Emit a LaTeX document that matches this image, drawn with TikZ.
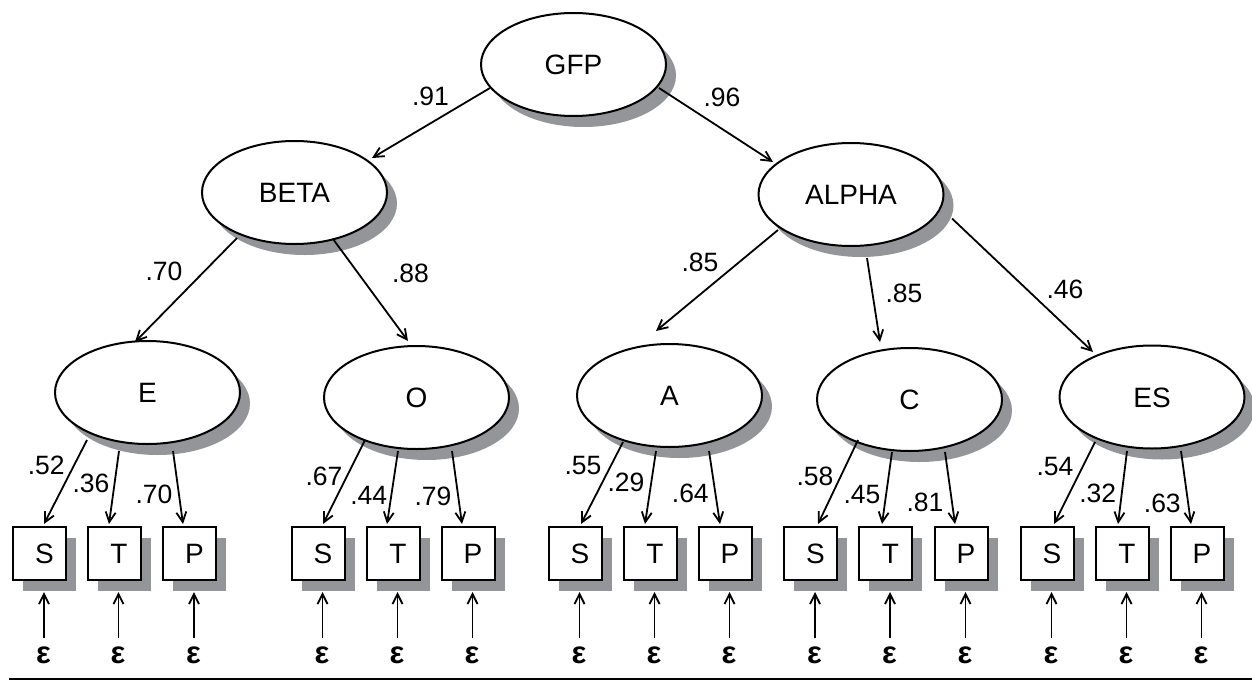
\documentclass[tikz,border=0pt]{standalone}
\usepackage{fontspec}
\setmainfont{Liberation Sans}
\usetikzlibrary{arrows.meta,shapes.geometric,shadows,calc}
\definecolor{sgray}{RGB}{147,149,152}
\begin{document}
\begin{tikzpicture}[x=1pt,y=-1pt,
  lat/.style={ellipse, draw, line width=2pt, fill=white,
    minimum width=185pt, minimum height=103pt, inner sep=0pt,
    text height=20pt, text depth=0pt, font=\fontsize{28}{31}\selectfont,
    drop shadow={opacity=1, fill=sgray, shadow xshift=10pt, shadow yshift=-11pt}},
  obs/.style={rectangle, draw, line width=2pt, fill=white,
    minimum size=53pt, inner sep=0pt,
    text height=20pt, text depth=0pt, font=\fontsize{28}{31}\selectfont,
    drop shadow={opacity=1, fill=sgray, shadow xshift=10pt, shadow yshift=-11pt}},
  coef/.style={inner sep=0pt, text height=18.5pt, text depth=0pt, font=\fontsize{26.5}{29}\selectfont},
  err/.style={inner sep=0pt, font=\bfseries\fontsize{31}{33}\selectfont},
  arr/.style={-{Straight Barb[length=10pt,width=10pt]}, line width=1.8pt},
]
\useasboundingbox (0,0) rectangle (1252,680);

% latent factors
\node[lat] (GFP)   at (573.5,64.5)  {GFP};
\node[lat] (BETA)  at (294.5,192.5) {BETA};
\node[lat] (ALPHA) at (851,194.5)   {ALPHA};
\node[lat] (E)     at (147.5,392.5) {E};
\node[lat] (O)     at (416.5,397.5) {O};
\node[lat] (A)     at (669.5,395.5) {A};
\node[lat] (C)     at (909.5,399.5) {C};
\node[lat] (ES)    at (1152,397)    {ES};

% observed indicators and errors
\foreach \g/\a/\b/\c in {E/39.5/114/189.5, O/318/393/468, A/575/650/725, C/810.5/885.5/961, ES/1047/1122/1197}{
  \node[obs] (\g-s) at (\a,553.5) {\hspace*{10pt}S};
  \node[obs] (\g-t) at (\b,553.5) {\hspace*{10pt}T};
  \node[obs] (\g-p) at (\c,553.5) {\hspace*{10pt}P};
}
\foreach \g in {E,O,A,C,ES}{
  \foreach \k in {s,t,p}{
    \node[err] (eps-\g-\k) at ($(\g-\k)+(4,101.8)$) {ε};
    \draw[arr] ($(eps-\g-\k)+(0.5,-17.5)$) -- ($(\g-\k.south)+(4.5,11)$);
  }
}

% higher order paths
\draw[arr] ($(GFP)+(-83.5,23.5)$) -- ($(BETA)+(77.5,-34.5)$);
\draw[arr] ($(GFP)+(85.5,23.5)$) -- ($(ALPHA)+(-78,-32.5)$);
\draw[arr] ($(BETA)+(-57.5,45.5)$) -- ($(E)+(-12.5,-50.5)$);
\draw[arr] ($(BETA)+(38.5,46.5)$) -- ($(O)+(-8.5,-56.5)$);
\draw[arr] ($(ALPHA)+(-73,35.5)$) -- ($(A)+(-13.5,-64.5)$);
\draw[arr] ($(ALPHA)+(16,63.5)$) -- ($(C)+(-29.5,-57.5)$);
\draw[arr] ($(ALPHA)+(101,24)$) -- ($(ES)+(-59,-45)$);

% indicator paths
\draw[arr] ($(E)+(-60.5,47.5)$) -- ($(E-s.north)+(4.5,-2)$);
\draw[arr] ($(E)+(-28.5,58.5)$) -- ($(E-t.north)+(-5,-2)$);
\draw[arr] ($(E)+(25.5,58.5)$)  -- ($(E-p.north)+(-6.5,-2)$);
\draw[arr] ($(O)+(-51.5,42.5)$) -- ($(O-s.north)+(5,-2)$);
\draw[arr] ($(O)+(-18.5,53.5)$) -- ($(O-t.north)+(-6,-2)$);
\draw[arr] ($(O)+(35.5,53.5)$)  -- ($(O-p.north)+(-6,-2)$);
\draw[arr] ($(A)+(-46.5,46.5)$) -- ($(A-s.north)+(6,-2)$);
\draw[arr] ($(A)+(-13.5,55.5)$) -- ($(A-t.north)+(-5,-2)$);
\draw[arr] ($(A)+(39.5,55.5)$)  -- ($(A-p.north)+(-5,-2)$);
\draw[arr] ($(C)+(-51.5,40.5)$) -- ($(C-s.north)+(7.5,-2)$);
\draw[arr] ($(C)+(-17.5,52.5)$) -- ($(C-t.north)+(-3.5,-2)$);
\draw[arr] ($(C)+(35.5,52.5)$)  -- ($(C-p.north)+(-6,-2)$);
\draw[arr] ($(ES)+(-57,45)$) -- ($(ES-s.north)+(7,-2)$);
\draw[arr] ($(ES)+(-25,54)$) -- ($(ES-t.north)+(-4,-2)$);
\draw[arr] ($(ES)+(29,54)$)  -- ($(ES-p.north)+(-6,-2)$);

% coefficients
\node[coef] at (430.5,96.7) {.91};
\node[coef] at (722,97)     {.96};
\node[coef] at (164,271.7)  {.70};
\node[coef] at (410.5,273)  {.88};
\node[coef] at (700,262)    {.85};
\node[coef] at (904,293)    {.85};
\node[coef] at (1065,289.7) {.46};

\node[coef] at (46.3,465)   {.52};
\node[coef] at (91,483.3)   {.36};
\node[coef] at (154,494)    {.70};
\node[coef] at (324,476.7)  {.67};
\node[coef] at (368.7,495.3){.44};
\node[coef] at (433,496.3)  {.79};
\node[coef] at (583,465.3)  {.55};
\node[coef] at (626,482.5)  {.29};
\node[coef] at (690.3,493.3){.64};
\node[coef] at (815,476.7)  {.58};
\node[coef] at (862,494)    {.45};
\node[coef] at (925,502.5)  {.81};
\node[coef] at (1055,466.7) {.54};
\node[coef] at (1097.7,493.7){.32};
\node[coef] at (1162.3,503.3){.63};

% bottom rule
\draw[line width=2pt] (9,678.8) -- (1252,678.8);
\end{tikzpicture}
\end{document}
